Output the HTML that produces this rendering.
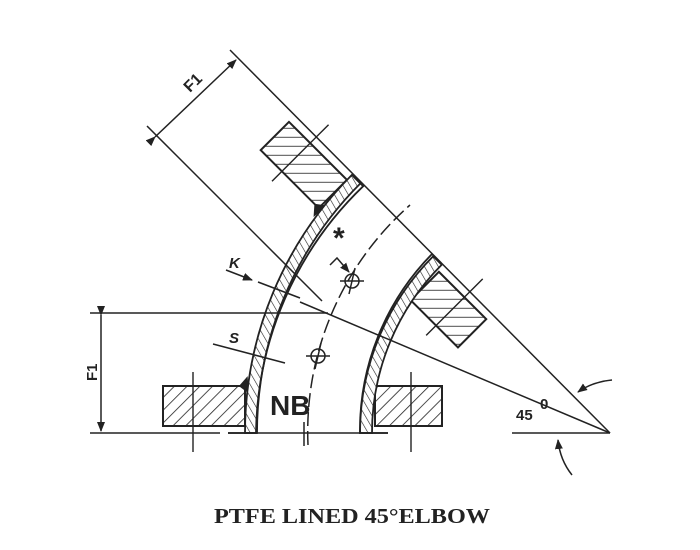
<!DOCTYPE html>
<html><head><meta charset="utf-8"><style>
html,body{margin:0;padding:0;background:#fff;}
svg{display:block;}
</style></head><body>
<svg width="700" height="550" viewBox="0 0 700 550" xmlns="http://www.w3.org/2000/svg">
<defs>
<pattern id="h" patternUnits="userSpaceOnUse" width="9" height="9" patternTransform="rotate(45)">
<rect width="9" height="9" fill="#fff"/><line x1="0" y1="0" x2="0" y2="9" stroke="#222" stroke-width="1.6"/>
</pattern>
<pattern id="h3" patternUnits="userSpaceOnUse" width="9" height="9" patternTransform="rotate(-45)">
<rect width="9" height="9" fill="#fff"/><line x1="0" y1="0" x2="0" y2="9" stroke="#222" stroke-width="1.6"/>
</pattern>
<pattern id="h2" patternUnits="userSpaceOnUse" width="6" height="6" patternTransform="rotate(-30)">
<rect width="6" height="6" fill="#fff"/><line x1="0" y1="0" x2="0" y2="6" stroke="#222" stroke-width="1.2"/>
</pattern>
<marker id="a" markerWidth="10" markerHeight="8" refX="9" refY="4" orient="auto" markerUnits="userSpaceOnUse">
<path d="M0,0 L10,4 L0,8 Z" fill="#222"/></marker>
<g id="end">
<rect x="163" y="386" width="82" height="40" fill="url(#h)" stroke="#222" stroke-width="2"/>
<rect x="375" y="386" width="67" height="40" fill="url(#h)" stroke="#222" stroke-width="2"/>
<line x1="193" y1="372" x2="193" y2="452" stroke="#222" stroke-width="1.4"/>
<line x1="411" y1="372" x2="411" y2="452" stroke="#222" stroke-width="1.4"/>
<path d="M240,386 L247,378 L248,392 Z" fill="#222"/>
<path d="M377,386 L370,378 L369,392 Z" fill="#222"/>
</g>
<g id="end2">
<rect x="163" y="386" width="82" height="40" fill="url(#h3)" stroke="#222" stroke-width="2"/>
<rect x="375" y="386" width="67" height="40" fill="url(#h3)" stroke="#222" stroke-width="2"/>
<line x1="193" y1="372" x2="193" y2="452" stroke="#222" stroke-width="1.4"/>
<line x1="411" y1="372" x2="411" y2="452" stroke="#222" stroke-width="1.4"/>
<path d="M240,386 L247,378 L248,392 Z" fill="#222"/>
<path d="M377,386 L370,378 L369,392 Z" fill="#222"/>
</g>
</defs>
<g fill="none" stroke="#222" stroke-width="1.5">
<use href="#end"/>
<use href="#end2" transform="translate(610 433) matrix(0.7071 0.7071 0.7071 -0.7071 0 0) translate(-610 -433)"/>
<path d="M245,433 A365,365 0 0 1 351.9,174.9 L360.4,183.4 A353,353 0 0 0 257,433 Z" fill="url(#h2)" stroke-width="1.8"/>
<path d="M372,433 A238,238 0 0 1 441.7,264.7 L433.2,256.2 A250,250 0 0 0 360,433 Z" fill="url(#h2)" stroke-width="1.8"/>
<path d="M228,433 L256,433 A349,349 0 0 1 363.2,186.2 L354,177" stroke-width="1.8"/>
<path d="M388,433 L360,433 A251,251 0 0 1 432,254 L441,263" stroke-width="1.8"/>
<path d="M308,445 A302,302 0 0 1 410,205" stroke-dasharray="14,5"/>
<line x1="90" y1="433" x2="220" y2="433"/>
<line x1="228" y1="433" x2="388" y2="433"/>
<line x1="512" y1="433" x2="610" y2="433"/>
<line x1="304" y1="422" x2="304" y2="446"/>
<line x1="90" y1="313" x2="328" y2="313"/>
<line x1="101" y1="315" x2="101" y2="431" marker-start="url(#a)" marker-end="url(#a)"/>
<line x1="230" y1="50" x2="610" y2="433"/>
<line x1="147" y1="126" x2="322" y2="301"/>
<line x1="155" y1="137" x2="236" y2="60" marker-start="url(#a)" marker-end="url(#a)"/>
<line x1="300" y1="302" x2="610" y2="433"/>
<line x1="226" y1="270" x2="252" y2="280" marker-end="url(#a)"/>
<line x1="258" y1="282" x2="300" y2="298"/>
<line x1="213" y1="344" x2="285" y2="363"/>
<circle cx="352" cy="281" r="7"/>
<line x1="340" y1="281" x2="364" y2="281"/><line x1="355" y1="268" x2="349" y2="294"/>
<circle cx="318" cy="356" r="7"/>
<line x1="306" y1="356" x2="330" y2="356"/><line x1="321" y1="343" x2="315" y2="369"/>
<path d="M330,265 L337,258 L349,272" marker-end="url(#a)"/>
<path d="M612,380 Q592,382 578,392" marker-end="url(#a)"/>
<path d="M572,475 Q560,460 558,440" marker-end="url(#a)"/>
</g>
<g font-family="Liberation Sans, sans-serif" fill="#222">
<text x="0" y="0" font-size="16" font-weight="bold" transform="translate(190,93) rotate(-45)">F1</text>
<text x="0" y="0" font-size="15" font-weight="bold" transform="translate(97,381) rotate(-90)">F1</text>
<text x="229" y="268" font-size="15" font-weight="bold" font-style="italic">K</text>
<text x="229" y="343" font-size="15" font-weight="bold" font-style="italic">S</text>
<text x="270" y="415" font-size="28" font-weight="bold">NB</text>
<text x="516" y="420" font-size="15" font-weight="bold">45</text>
<text x="540" y="409" font-size="15" font-weight="bold">0</text>
<text x="333" y="248" font-size="30" font-weight="bold">*</text>
</g>
<text x="352" y="523" text-anchor="middle" font-family="Liberation Serif, serif" font-size="21" font-weight="bold" fill="#222" textLength="276" lengthAdjust="spacingAndGlyphs">PTFE LINED 45°ELBOW</text>
</svg>
</body></html>
